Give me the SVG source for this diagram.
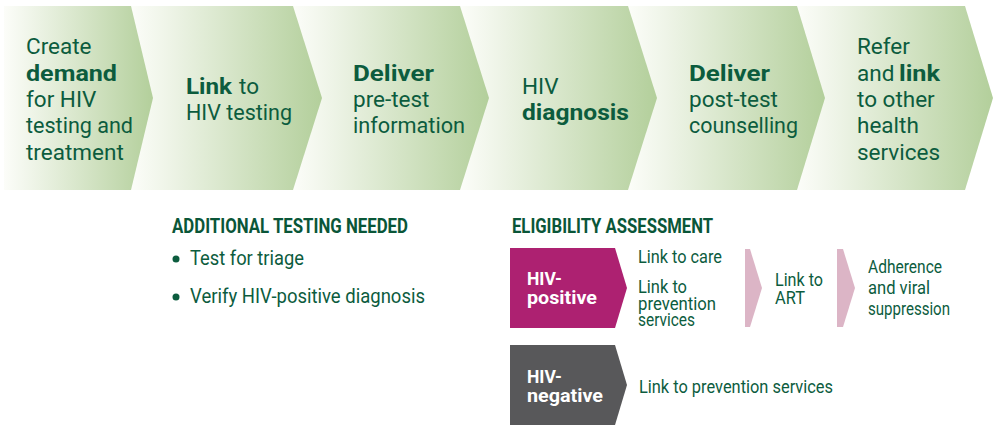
<svg xmlns="http://www.w3.org/2000/svg" width="994" height="426" viewBox="0 0 994 426">
<defs>
<linearGradient id="g" x1="0" y1="0" x2="1" y2="0">
<stop offset="0" stop-color="#fcfdf9"/>
<stop offset="0.2" stop-color="#eef4e7"/>
<stop offset="1" stop-color="#b3cf9b"/>
</linearGradient>
</defs>
<style>
.t{font-family:Roboto,"Liberation Sans",sans-serif;fill:#0c5c3e;font-size:22.5px}
.b{font-weight:bold}
.h{font-family:Roboto,"Liberation Sans",sans-serif;fill:#0a5638;font-size:20px;font-weight:bold}
.s{font-family:Roboto,"Liberation Sans",sans-serif;fill:#0c5c3e;font-size:20px}
.m{font-family:Roboto,"Liberation Sans",sans-serif;fill:#0c5c3e;font-size:17.5px}
.w{font-family:Roboto,"Liberation Sans",sans-serif;fill:#ffffff;font-size:17.5px;font-weight:bold}
.chev{fill:url(#g)}
.pink{fill:#dcb5c6}
</style>
<rect width="994" height="426" fill="#ffffff"/>

<g id="step6">
<polygon class="chev" points="797,6 965,6 993,98 965,190 797,190"/>
<text class="t" x="857" y="54">Refer</text>
<text class="t" x="857" y="81">and <tspan class="b" x="899" textLength="41" lengthAdjust="spacingAndGlyphs">link</tspan></text>
<text class="t" x="857" y="107">to other</text>
<text class="t" x="857" y="133">health</text>
<text class="t" x="857" y="160">services</text>
</g>
<g id="step5">
<polygon class="chev" points="628,6 797,6 825,98 797,190 628,190"/>
<text class="t b" x="689" y="81" textLength="81" lengthAdjust="spacingAndGlyphs">Deliver</text>
<text class="t" x="689" y="107">post-test</text>
<text class="t" x="689" y="133" textLength="109" lengthAdjust="spacingAndGlyphs">counselling</text>
</g>
<g id="step4">
<polygon class="chev" points="460,6 628,6 657,98 628,190 460,190"/>
<text class="t" x="522" y="94">HIV</text>
<text class="t b" x="522" y="120" textLength="107" lengthAdjust="spacingAndGlyphs">diagnosis</text>
</g>
<g id="step3">
<polygon class="chev" points="293,6 460,6 489,98 460,190 293,190"/>
<text class="t b" x="353" y="81" textLength="81" lengthAdjust="spacingAndGlyphs">Deliver</text>
<text class="t" x="353" y="107">pre-test</text>
<text class="t" x="353" y="133" textLength="112" lengthAdjust="spacingAndGlyphs">information</text>
</g>
<g id="step2">
<polygon class="chev" points="131,6 293,6 322,98 293,190 131,190"/>
<text class="t" x="186" y="94"><tspan class="b" textLength="46" lengthAdjust="spacingAndGlyphs">Link</tspan><tspan x="239">to</tspan></text>
<text class="t" x="186" y="120" textLength="106" lengthAdjust="spacingAndGlyphs">HIV testing</text>
</g>
<g id="step1">
<polygon class="chev" points="4,6 131,6 153,98 131,190 4,190"/>
<text class="t" x="26" y="54">Create</text>
<text class="t b" x="26" y="81" textLength="91" lengthAdjust="spacingAndGlyphs">demand</text>
<text class="t" x="26" y="107">for HIV</text>
<text class="t" x="26" y="133" textLength="107" lengthAdjust="spacingAndGlyphs">testing and</text>
<text class="t" x="26" y="160">treatment</text>
</g>

<g id="additional-testing">
<text class="h" x="172" y="233" textLength="236" lengthAdjust="spacingAndGlyphs">ADDITIONAL TESTING NEEDED</text>
<circle cx="176" cy="259" r="3.5" fill="#0c5c3e"/>
<text class="s" x="190" y="265" textLength="114" lengthAdjust="spacingAndGlyphs">Test for triage</text>
<circle cx="176" cy="297" r="3.5" fill="#0c5c3e"/>
<text class="s" x="190" y="303" textLength="235" lengthAdjust="spacingAndGlyphs">Verify HIV-positive diagnosis</text>
</g>

<g id="eligibility">
<text class="h" x="512" y="233" textLength="201" lengthAdjust="spacingAndGlyphs">ELIGIBILITY ASSESSMENT</text>
</g>

<g id="hiv-positive">
<polygon points="510,248 615,248 627,288 615,328 510,328" fill="#ad2171"/>
<text class="w" x="527" y="285">HIV-</text>
<text class="w" x="527" y="304" textLength="70" lengthAdjust="spacingAndGlyphs">positive</text>
</g>
<g id="pos-links">
<text class="m" x="638" y="263" textLength="84" lengthAdjust="spacingAndGlyphs">Link to care</text>
<text class="m" x="638" y="293" textLength="49" lengthAdjust="spacingAndGlyphs">Link to</text>
<text class="m" x="638" y="310" textLength="78" lengthAdjust="spacingAndGlyphs">prevention</text>
<text class="m" x="638" y="326" textLength="57" lengthAdjust="spacingAndGlyphs">services</text>
</g>
<g id="art">
<text class="m" x="775" y="286" textLength="48" lengthAdjust="spacingAndGlyphs">Link to</text>
<text class="m" x="775" y="304" textLength="30" lengthAdjust="spacingAndGlyphs">ART</text>
</g>
<g id="adherence">
<text class="m" x="868" y="273" textLength="74" lengthAdjust="spacingAndGlyphs">Adherence</text>
<text class="m" x="868" y="294" textLength="62" lengthAdjust="spacingAndGlyphs">and viral</text>
<text class="m" x="868" y="315" textLength="82" lengthAdjust="spacingAndGlyphs">suppression</text>
</g>

<g id="hiv-negative">
<polygon points="510,345 615,345 627,385 615,425 510,425" fill="#58585a"/>
<text class="w" x="527" y="383">HIV-</text>
<text class="w" x="527" y="402" textLength="76" lengthAdjust="spacingAndGlyphs">negative</text>
</g>
<g id="neg-links">
<text class="m" x="639" y="393" textLength="194" lengthAdjust="spacingAndGlyphs">Link to prevention services</text>
</g>

<g id="connectors">
<polygon class="pink" points="745,249 750,249 762,288 750,327 745,327"/>
<polygon class="pink" points="837,249 843,249 855,288 843,327 837,327"/>
</g>
</svg>
